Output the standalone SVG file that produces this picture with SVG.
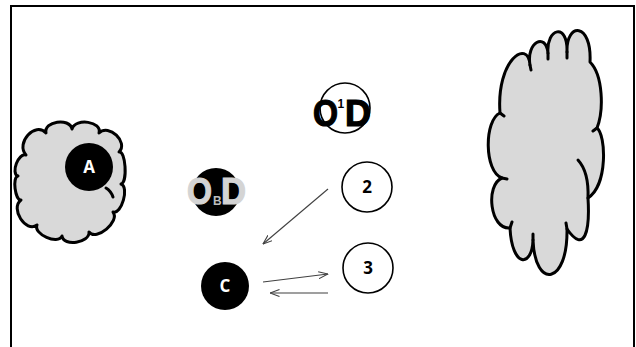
<svg xmlns="http://www.w3.org/2000/svg" width="636" height="347" viewBox="0 0 636 347">
  <style>
    .cloud { fill: #d9d9d9; stroke: #000; stroke-width: 3; stroke-linejoin: round; }
    .seam { fill: none; stroke: #000; stroke-width: 3; stroke-linecap: round; }
    .dark { fill: #000; }
    .ring { fill: #fff; stroke: #000; stroke-width: 1.6; }
    .lbl { font-family: "Open Sans", "Liberation Sans", sans-serif; font-weight: bold; font-size: 17px; text-anchor: middle; }
    .big { font-family: "Liberation Sans", "Open Sans", sans-serif; font-weight: bold; font-size: 37px; stroke-width: 1.2; }
    .small { font-family: "Liberation Sans", "Open Sans", sans-serif; font-weight: bold; font-size: 12px; }
    .edge { fill: none; stroke: #404040; stroke-width: 1.1; marker-end: url(#head); }
  </style>
  <defs>
    <marker id="head" viewBox="0 0 10 8" refX="9.5" refY="4" markerWidth="10" markerHeight="8" markerUnits="userSpaceOnUse" orient="auto">
      <path d="M0,0.5 L9.5,4 L0,7.5" fill="none" stroke="#404040" stroke-width="1.1"/>
    </marker>
  </defs>

  <rect width="636" height="347" fill="#fff"/>
  <!-- frame, open at the bottom -->
  <path d="M11,347 V6 H634 V347" fill="none" stroke="#000" stroke-width="2"/>

  <g id="cloud-left">
    <path class="cloud" d="M26,155 C15.3,143 35.3,121 46,133 C43.5,121.2 69.5,117.2 72,129 C75.5,117.5 102.5,121.5 99,133 C108.8,123.1 128.8,142.1 119,152 C125.7,150.1 127.7,182.1 121,184 C129.5,186.9 121.5,214.9 113,212 C120.3,221.5 96.3,241.5 89,232 C90.1,242.9 63.1,246.9 62,236 C58.1,245.2 33.1,234.2 37,225 C25.8,233.4 9.8,208.4 21,200 C15.1,200.7 12.1,176.7 18,176 C10.5,173.4 18.5,152.4 26,155 Z"/>
    <path class="seam" d="M106,188 Q111,191 113,197"/>
  </g>

  <g id="cloud-right">
    <path class="cloud" d="M500,113 C496,60 528,38 530,65 C526,42 546,32 548,53 C546,28 568,22 567,52 C566,22 592,22 590,62 C603,75 604,110 597,128 C606,135 608,185 588,198 C590,230 585,255 567,229 C568,285 535,290 533,240 C532,268 512,268 510,228 C490,230 485,185 502,178 C484,172 484,120 500,113 Z"/>
    <path class="seam" d="M578,160 Q589,172 588,198"/>
    <path class="seam" d="M530,65 L531,70 M548,53 L548,59 M567,52 L567,58 M597,128 L593,131 M567,229 L566,223 M533,240 L533,234 M510,228 L512,222 M502,178 L507,179 M500,113 L504,116"/>
  </g>

  <g id="node-a">
    <circle class="dark" cx="89" cy="167" r="24"/>
    <text class="lbl" x="89" y="173" fill="#fff">A</text>
  </g>

  <g id="node-obd">
    <circle class="dark" cx="216" cy="192" r="24"/>
    <text class="big" x="187" y="204" textLength="25" lengthAdjust="spacingAndGlyphs" fill="#d4d4d4" stroke="#d4d4d4">O</text>
    <text class="big" x="221" y="204" textLength="25" lengthAdjust="spacingAndGlyphs" fill="#d4d4d4" stroke="#d4d4d4">D</text>
    <text class="small" x="213" y="205" fill="#bdbdbd">B</text>
  </g>

  <g id="node-1">
    <circle class="ring" cx="345" cy="108" r="25"/>
    <text class="big" x="313" y="126" textLength="25" lengthAdjust="spacingAndGlyphs" fill="#000" stroke="#000">O</text>
    <text class="big" x="345" y="126" textLength="26" lengthAdjust="spacingAndGlyphs" fill="#000" stroke="#000">D</text>
    <text class="small" x="337.5" y="108" fill="#000">1</text>
  </g>

  <g id="node-2">
    <circle class="ring" cx="367" cy="187" r="25"/>
    <text class="lbl" x="367" y="193" fill="#000">2</text>
  </g>

  <g id="node-3">
    <circle class="ring" cx="368" cy="268" r="25"/>
    <text class="lbl" x="368" y="274" fill="#000">3</text>
  </g>

  <g id="node-c">
    <circle class="dark" cx="225" cy="286" r="24"/>
    <text class="lbl" x="225" y="292" fill="#fff">C</text>
  </g>

  <g id="connectors">
    <path class="edge" d="M328,189 L263,244"/>
    <path class="edge" d="M263,282 L328,274"/>
    <path class="edge" d="M328,293 L270,293"/>
  </g>
</svg>
